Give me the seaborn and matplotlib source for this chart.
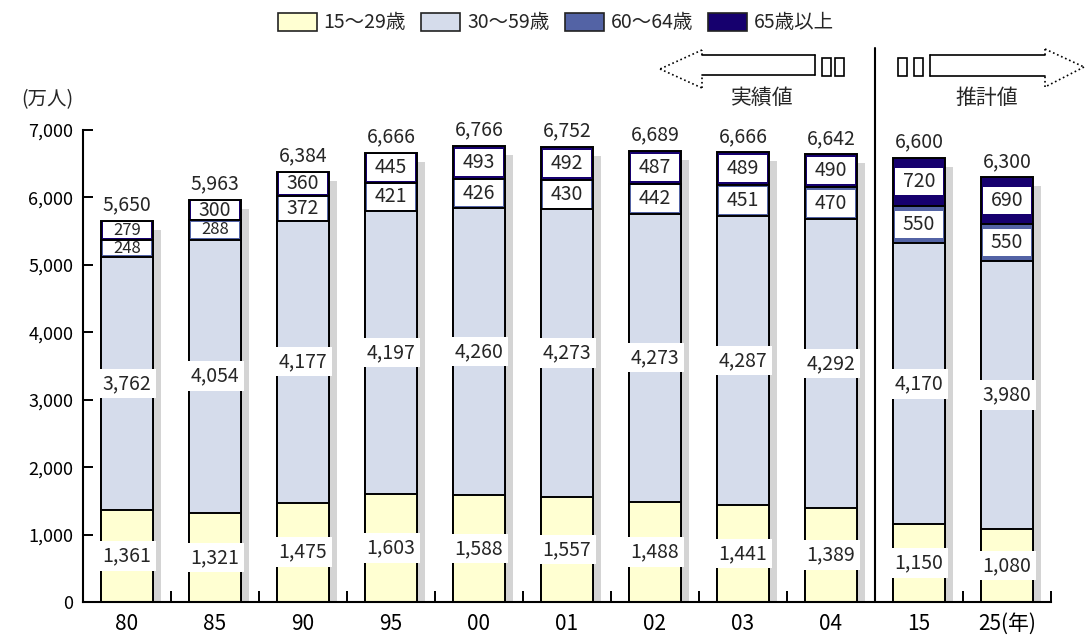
import matplotlib
matplotlib.use("Agg")
import numpy as np
import pandas as pd
import seaborn as sns
import matplotlib.pyplot as plt
from matplotlib.patches import Patch, Rectangle
from matplotlib.lines import Line2D

# ---- data (万人) ----
years = ["80", "85", "90", "95", "00", "01", "02", "03", "04", "15", "25"]
tick_labels = ["80", "85", "90", "95", "00", "01", "02", "03", "04", "15", "25(年)"]
age_15_29 = [1361, 1321, 1475, 1603, 1588, 1557, 1488, 1441, 1389, 1150, 1080]
age_30_59 = [3762, 4054, 4177, 4197, 4260, 4273, 4273, 4287, 4292, 4170, 3980]
age_60_64 = [248, 288, 372, 421, 426, 430, 442, 451, 470, 550, 550]
age_65_up = [279, 300, 360, 445, 493, 492, 487, 489, 490, 720, 690]
totals = [5650, 5963, 6384, 6666, 6766, 6752, 6689, 6666, 6642, 6600, 6300]
series_names = ["15～29歳", "30～59歳", "60～64歳", "65歳以上"]
yticks = [0, 1000, 2000, 3000, 4000, 5000, 6000, 7000]

colors = ["#FFFFD2", "#D5DCEB", "#5363A5", "#16006E"]
shadow_color = "#D4D4D4"

sns.set_theme(style="white")
plt.rcParams["font.family"] = ["Noto Sans CJK JP", "DejaVu Sans"]

W, H = 1085, 635
fig = plt.figure(figsize=(W / 100, H / 100), dpi=100)
ax_l, ax_r, ax_b, ax_t = 83, 1051, 602, 130
ax = fig.add_axes([ax_l / W, 1 - ax_b / H, (ax_r - ax_l) / W, (ax_b - ax_t) / H])
ax.set_xlim(-0.5, 10.5)
ax.set_ylim(0, 7000)

df = pd.DataFrame({
    "year": years,
    series_names[0]: age_15_29,
    series_names[1]: age_30_59,
    series_names[2]: age_60_64,
    series_names[3]: age_65_up,
})
cum = df[series_names].cumsum(axis=1)
bottoms = cum - df[series_names]

bar_w = 0.6
xpos = np.arange(len(years))
px_x = (ax_r - ax_l) / 11.0          # pixels per category
px_y = (ax_b - ax_t) / 7000.0        # pixels per 万人

# drop shadow behind each bar
ax.bar(xpos + 8 / px_x, cum[series_names[-1]] - 9 / px_y, width=bar_w,
       color=shadow_color, linewidth=0, zorder=0.5)

# stacked bars: draw cumulative layers from the top down
for i in reversed(range(4)):
    sns.barplot(x=df["year"], y=cum[series_names[i]], order=years, color=colors[i],
                saturation=1, width=bar_w, edgecolor="black", linewidth=1.4,
                errorbar=None, ax=ax, zorder=1)

ax.set_xlim(-0.5, 10.5)
ax.set_ylim(0, 7000)

LBL = 14

# labels in the two lower segments (white box wider than bar)
for i in range(2):
    col = series_names[i]
    for x, v, b in zip(xpos, df[col], bottoms[col]):
        ax.text(x, b + v / 2, f"{v:,}", ha="center", va="center", fontsize=LBL,
                zorder=6, bbox=dict(boxstyle="square,pad=0.22", fc="white", ec="none"))

# labels in the two upper segments (white inset panel inside the segment)
for i in range(2, 4):
    col = series_names[i]
    for x, v, b in zip(xpos, df[col], bottoms[col]):
        box_h = min(v - 40, 400)
        ax.bar(x, box_h, bottom=b + v / 2 - box_h / 2, width=0.54,
               color="white", linewidth=0, zorder=4)
        fs = LBL if v >= 290 else 12
        ax.text(x, b + v / 2, f"{v:,}", ha="center", va="center", fontsize=fs, zorder=6)

# totals above the bars
for x, t, top in zip(xpos, totals, cum[series_names[-1]]):
    ax.text(x, top + 80, f"{t:,}", ha="center", va="bottom", fontsize=LBL,
            zorder=6, clip_on=False)

# axes styling
sns.despine(ax=ax)
for s in ["left", "bottom"]:
    ax.spines[s].set_color("black")
    ax.spines[s].set_linewidth(1.5)
ax.set_xlabel("")
ax.set_ylabel("")
ax.set_xticks(xpos)
ax.set_xticklabels(tick_labels, fontsize=15)
ax.set_xticks(np.arange(0.5, 10.6, 1), minor=True)
ax.tick_params(axis="x", which="major", length=0, pad=8, colors="black")
ax.tick_params(axis="x", which="minor", direction="in", length=8, width=1.4,
               color="black", bottom=True)
ax.set_yticks(yticks)
ax.set_yticklabels([f"{v:,}" for v in yticks], fontsize=13)
ax.tick_params(axis="y", direction="in", length=7, width=1.4, color="black",
               labelcolor="black", pad=7, left=True)
ax.grid(False)

# y unit
fig.text(47 / W, 1 - 100 / H, "(万人)", ha="center", va="center", fontsize=14)

# divider between actual and projected values
ax.axvline(8.5, ymin=0, ymax=(ax_b - 48) / (ax_b - ax_t), color="black",
           linewidth=1.5, clip_on=False, zorder=2)


def P(x, y):
    return x / W, 1 - y / H


def seg(p, q, ls="-"):
    (x0, y0), (x1, y1) = P(*p), P(*q)
    fig.add_artist(Line2D([x0, x1], [y0, y1], transform=fig.transFigure,
                          color="black", linewidth=1.2, linestyle=ls))


def box(x0, y0, x1, y1):
    fx, fy = P(x0, y1)
    fig.add_artist(Rectangle((fx, fy), (x1 - x0) / W, (y1 - y0) / H,
                             transform=fig.transFigure, fill=False,
                             edgecolor="black", linewidth=1.2))


# left arrow (actual values)
seg((702, 55), (815, 55)); seg((815, 55), (815, 75)); seg((815, 75), (702, 75))
seg((702, 55), (702, 50), ":"); seg((702, 50), (660, 69), ":")
seg((660, 69), (702, 88), ":"); seg((702, 88), (702, 75), ":")
box(822, 58, 831, 76); box(835, 58, 844, 76)
fig.text(762 / W, 1 - 98 / H, "実績値", ha="center", va="center", fontsize=15)

# right arrow (projected values)
seg((930, 55), (1045, 55)); seg((930, 55), (930, 76)); seg((930, 76), (1045, 76))
seg((1045, 55), (1045, 49), ":"); seg((1045, 49), (1084, 67), ":")
seg((1084, 67), (1045, 87), ":"); seg((1045, 87), (1045, 76), ":")
box(898, 58, 907, 76); box(914, 58, 923, 76)
fig.text(987 / W, 1 - 98 / H, "推計値", ha="center", va="center", fontsize=15)

# legend
handles = [Patch(facecolor=c, edgecolor="#222222", linewidth=1.2) for c in colors]
fig.legend(handles, series_names, loc="center", bbox_to_anchor=(556 / W, 1 - 23 / H),
           ncol=4, frameon=False, fontsize=14, handlelength=2.0, handleheight=1.1,
           handletextpad=0.35, columnspacing=0.8, borderpad=0)

fig.savefig("out.png", dpi=100, facecolor="white")
